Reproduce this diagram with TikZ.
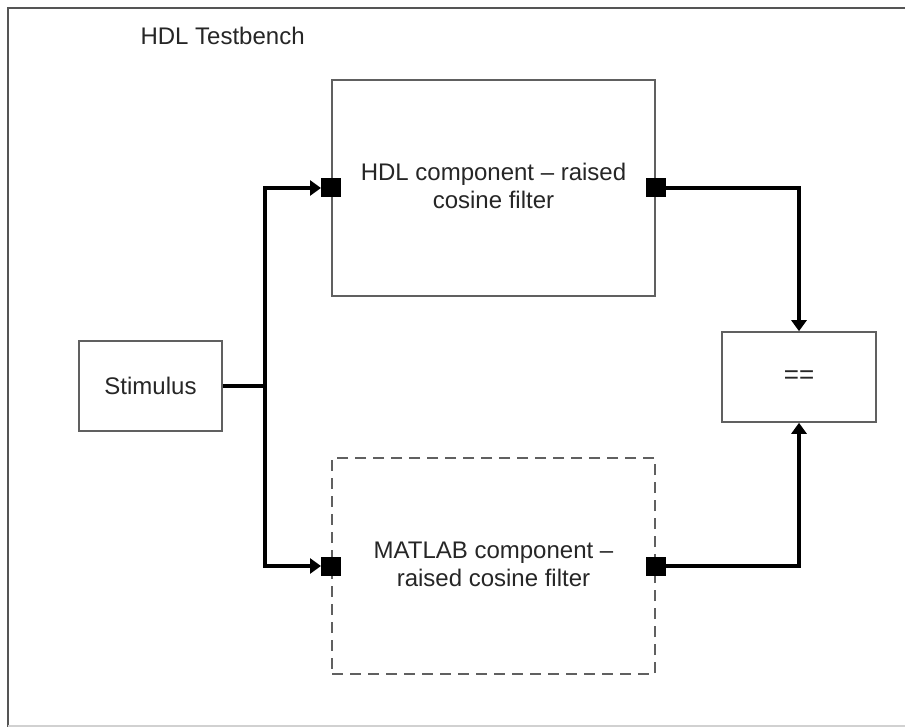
\documentclass[tikz,border=0pt]{standalone}
\usepackage{fontspec}
\setmainfont{Liberation Sans}
\usetikzlibrary{arrows.meta}
\definecolor{boxgray}{HTML}{606060}
\definecolor{framegray}{HTML}{555555}
\tikzset{
  blk/.style={draw=boxgray, line width=1.6pt, fill=white, inner sep=0pt},
  dblk/.style={draw=boxgray, line width=1.6pt, inner sep=0pt, dash pattern=on 11pt off 7pt},
  port/.style={fill=black, draw=none, minimum width=20pt, minimum height=19pt, inner sep=0pt},
  wire/.style={line width=3.2pt, black},
  arr/.style={wire, -{Triangle[length=11pt,width=15pt]}},
  lbl/.style={font=\fontsize{24}{28}\selectfont, align=center, text=black!85},
}
\begin{document}
\begin{tikzpicture}[x=1pt,y=-1pt]
\useasboundingbox (0,0) rectangle (905,727);
\fill[white] (0,0) rectangle (905,727);
% outer frame
\draw[framegray, line width=2pt] (8,727) -- (8,8) -- (905,8);
\draw[black!18, line width=1.5pt] (8,726) -- (905,726);
\node[lbl, anchor=base west] (title) at (137,45) {HDL Testbench};

% boxes
\node[blk, minimum width=323pt, minimum height=216pt] (hdl) at (493.5,188) {};
\node[lbl] at ([yshift=2pt]hdl.center) {HDL component – raised\\cosine filter};
\node[dblk, minimum width=323pt, minimum height=216pt] (ml) at (493.5,566) {};
\node[lbl] at ([yshift=2pt]ml.center) {MATLAB component –\\raised cosine filter};
\node[blk, minimum width=143pt, minimum height=90pt] (stim) at (150.5,386) {};
\node[lbl] at (stim.center) {Stimulus};
\node[blk, minimum width=154pt, minimum height=90pt] (eq) at (799,377) {};
\node[lbl, font=\fontsize{26}{28}\selectfont] at (eq.center) {==};

% ports
\node[port] (hin) at (hdl.west |- 0,188) {};
\node[port] (hout) at (hdl.east |- 0,188) {};
\node[port] (min) at (ml.west |- 0,566) {};
\node[port] (mout) at (ml.east |- 0,566) {};

% wires
\coordinate (bus) at (265,386);
\draw[wire] (stim.east |- bus) -- (bus);
\draw[arr] (bus) |- (hin.west);
\draw[arr] (bus) |- (min.west);
\draw[arr] (hout.east) -| (eq.north);
\draw[arr] (mout.east) -| (eq.south);
\end{tikzpicture}
\end{document}
